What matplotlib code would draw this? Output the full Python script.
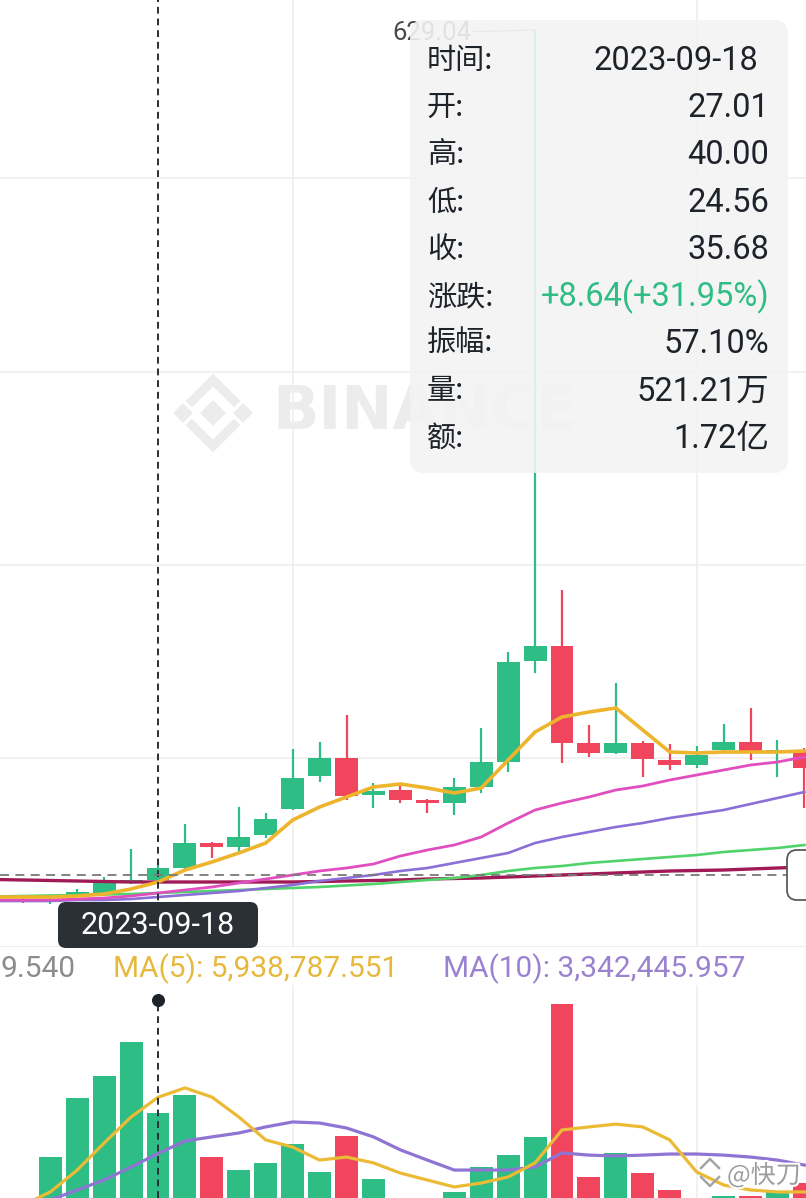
import matplotlib
matplotlib.use("Agg")
import matplotlib.pyplot as plt
import matplotlib.transforms as mtransforms
from matplotlib.patches import FancyBboxPatch, Polygon
from matplotlib.lines import Line2D
from matplotlib import patheffects as pe
import numpy as np

plt.rcParams['font.family'] = ['Roboto', 'Noto Sans CJK SC', 'DejaVu Sans']

# ---- daily candles; index 0 is 2023-09-18 ----
candle_idx = list(range(-6, 25))
opens = [13.02, 13.73, 11.61, 16.56, 16.90, 25.06, 27.01, 35.68, 53.38, 50.55, 59.04,
         77.45, 100.82, 113.56, 87.36, 90.90, 83.82, 81.70, 93.03, 110.73, 182.24,
         192.86, 124.18, 117.10, 124.18, 112.14, 108.60, 119.22, 124.89, 117.10, 119.22]
highs = [14.44, 15.15, 14.44, 20.81, 29.31, 49.13, 40.00, 66.83, 54.09, 78.87, 74.62,
         119.93, 124.89, 144.00, 95.86, 95.86, 84.53, 99.40, 134.80, 188.61, 629.04,
         232.50, 136.92, 166.66, 125.60, 123.47, 122.06, 137.63, 148.96, 126.30, 120.64]
lows = [11.61, 10.90, 10.19, 15.86, 15.86, 24.35, 24.56, 34.97, 42.76, 47.01, 56.92,
        76.74, 96.57, 83.82, 78.16, 81.70, 74.62, 73.20, 88.78, 103.65, 173.74,
        110.02, 114.27, 116.39, 100.11, 105.06, 106.48, 117.81, 112.14, 100.11, 78.16]
closes = [12.32, 12.32, 13.02, 18.69, 25.06, 27.04, 35.68, 53.38, 50.55, 57.63, 70.37,
          99.40, 113.56, 86.66, 90.20, 83.82, 81.70, 93.03, 110.73, 181.53, 192.86,
          124.18, 117.10, 124.18, 112.85, 108.60, 115.68, 124.89, 117.81, 119.22, 106.48]

# price moving averages
ma5 = [15.15, 15.15, 15.15, 15.86, 17.27, 20.81, 25.77, 34.26, 39.93, 46.30, 53.38,
       69.66, 78.87, 85.95, 93.03, 95.15, 92.32, 88.78, 92.32, 112.14, 131.97,
       142.59, 146.13, 148.96, 133.38, 117.81, 117.10, 117.81, 117.81, 117.81, 118.52]
ma20 = [13.02, 13.02, 13.02, 13.73, 14.44, 15.86, 17.98, 20.10, 22.23, 25.06, 27.89,
        30.72, 33.56, 35.68, 38.51, 44.18, 48.42, 51.96, 57.63, 67.54, 76.74,
        81.70, 85.95, 90.90, 93.74, 97.98, 101.52, 105.06, 108.60, 110.73, 114.27]
ma30 = [12.32, 12.32, 12.32, 13.02, 13.02, 13.73, 15.15, 16.56, 17.98, 19.40, 21.52,
        23.64, 26.48, 28.60, 30.72, 33.56, 35.68, 39.22, 42.76, 46.30, 53.38,
        57.63, 61.17, 64.71, 67.54, 71.08, 73.90, 76.74, 81.00, 85.24, 89.49]
ma60 = [15.51, 15.86, 16.21, 16.56, 16.92, 17.27, 17.98, 18.69, 19.40, 20.10, 20.81,
        21.52, 22.23, 23.29, 24.35, 25.77, 27.18, 28.60, 30.72, 33.56, 35.68,
        37.10, 39.22, 40.64, 42.05, 43.47, 44.88, 47.01, 48.42, 49.84, 51.96]
ma120 = [27.53, 27.18, 26.83, 26.48, 26.12, 25.77, 25.77, 25.77, 25.77, 25.77, 25.77,
         25.77, 26.12, 26.48, 26.83, 27.18, 27.89, 28.25, 28.60, 29.31, 30.02,
         30.72, 31.43, 32.14, 32.84, 33.56, 33.91, 34.26, 34.97, 35.68, 36.39]

# volume (millions) and its moving averages
volumes = [0.80, 0.90, 3.18, 5.90, 6.90, 8.50, 5.2121, 6.04, 3.18, 2.58, 2.91,
           3.78, 2.49, 4.15, 2.17, 0.90, 0.80, 1.57, 2.72, 3.27, 4.10,
           10.24, 2.26, 3.37, 2.44, 1.66, 1.00, 1.38, 1.38, 1.61, 1.98]
vol_ma5 = [0.80, 0.97, 1.57, 2.58, 3.83, 5.03, 5.938787551, 6.37, 5.95, 5.03, 3.97,
           3.64, 3.04, 3.18, 2.91, 2.44, 2.12, 1.80, 1.98, 2.26, 2.91,
           4.43, 4.57, 4.70, 4.57, 3.97, 2.49, 1.89, 1.66, 1.57, 1.57]
vol_ma10 = [0.60, 0.74, 1.20, 1.66, 2.12, 2.72, 3.342445957, 3.92, 4.11, 4.29, 4.57,
            4.80, 4.75, 4.52, 4.11, 3.51, 3.04, 2.58, 2.58, 2.58, 2.72,
            3.37, 3.27, 3.23, 3.27, 3.32, 3.32, 3.27, 3.18, 3.04, 2.81]

tip_labels = ['时间:', '开:', '高:', '低:', '收:', '涨跌:', '振幅:', '量:', '额:']
tip_values = ['2023-09-18', '27.01', '40.00', '24.56', '35.68',
              '+8.64(+31.95%)', '57.10%', '521.21万', '1.72亿']
selected_date = '2023-09-18'
selected_idx = 0
cursor_price = 31.0
high_mark_idx = 14
grid_prices = [113.6, 250.2, 386.8, 524.2]
grid_candles = [5, 20]

UP = '#2ebd85'
DOWN = '#f0455d'
TEXT = '#1e2329'

W, H = 806, 1198
fig = plt.figure(figsize=(W / 100, H / 100), dpi=100, facecolor='white')
# pixel coordinates measured from the top-left corner
px = mtransforms.Affine2D().scale(1 / W, -1 / H).translate(0, 1) + fig.transFigure

ax = fig.add_axes([0, 1 - 947 / H, 1, 947 / H])
axv = fig.add_axes([0, 0, 1, 213 / H])
for a in (ax, axv):
    a.set_facecolor('none')
    a.set_xlim(-5.867, 24.06)
    for s in a.spines.values():
        s.set_visible(False)
    a.tick_params(left=False, bottom=False, labelleft=False, labelbottom=False)
    a.set_xticks(grid_candles)
    a.grid(True, axis='x', color='#efefef', lw=1.2, zorder=0)
    a.set_axisbelow(True)

ax.set_ylim(-20.25, 650.22)
ax.set_yticks(grid_prices)
ax.grid(True, axis='y', color='#efefef', lw=1.2, zorder=0)
ax.axhline(-20.25, color='#eeeeee', lw=1.5, zorder=0)
axv.set_ylim(1.29, 11.12)

x = np.array(candle_idx, dtype=float)
o = np.array(opens); c = np.array(closes)
hi = np.array(highs); lo = np.array(lows)
up = c >= o
colors = np.where(up, UP, DOWN)

# candles
ax.vlines(x, lo, hi, colors=colors, lw=1.6, zorder=3)
body_lo = np.minimum(o, c)
body_h = np.maximum(np.abs(c - o), 1.4)
ax.bar(x, body_h, bottom=body_lo, width=0.85, color=colors, zorder=3, linewidth=0)

# moving averages
ax.plot(x, ma120, color='#a01a55', lw=2.4, zorder=4, solid_capstyle='round')
ax.plot(x, ma60, color='#4fd36a', lw=1.9, zorder=4)
ax.plot(x, ma30, color='#8b6fd6', lw=1.9, zorder=4)
ax.plot(x, ma20, color='#e14fbf', lw=2.0, zorder=4)
ax.plot(x, ma5, color='#edb42c', lw=2.6, zorder=5)

# crosshair
ax.axvline(selected_idx, color='#2a2e35', lw=1.4, ls=(0, (3.5, 2.5)), zorder=6)
ax.plot([-5.867, 23.3], [cursor_price, cursor_price], color='#7a7a7a', lw=1.3,
        ls=(0, (5, 3.5)), zorder=6)

# highest price marker
hm = candle_idx.index(high_mark_idx)
ax.annotate(f'{highs[hm]:.2f}', xy=(high_mark_idx, highs[hm]),
            xytext=(-64, -3), textcoords='offset pixels', ha='right', va='center',
            fontsize=18.5, color='#4a4a4a', zorder=7,
            arrowprops=dict(arrowstyle='-', color='#9a9a9a', lw=1.0,
                            shrinkA=0, shrinkB=0))

# volume bars and averages
axv.bar(x, volumes, width=0.85, color=colors, zorder=3, linewidth=0)
axv.plot(x, vol_ma10, color='#8f74d4', lw=2.3, zorder=4)
axv.plot(x, vol_ma5, color='#ebbb35', lw=2.3, zorder=5)
axv.axvline(selected_idx, ymax=0.93, color='#2a2e35', lw=1.4, ls=(0, (3.5, 2.5)), zorder=6)
axv.scatter([selected_idx], [0.93], s=70, color='#1e2329', zorder=7,
            transform=mtransforms.blended_transform_factory(axv.transData, axv.transAxes))

# faint exchange watermark
wm = '#ececec'
for cx, r in [(213, 12), (183, 9), (243, 9)]:
    fig.add_artist(Polygon([(cx, 413 - r), (cx + r, 413), (cx, 413 + r), (cx - r, 413)],
                           closed=True, transform=px, color=wm, zorder=-1))
for pts in ([(192, 401), (213, 380), (234, 401)], [(192, 425), (213, 446), (234, 425)]):
    fig.add_artist(Line2D([p[0] for p in pts], [p[1] for p in pts], transform=px,
                          color=wm, lw=6.5, solid_joinstyle='miter', zorder=-1))
fig.text(272, 413, 'BINANCE', transform=px, fontsize=44, fontweight='bold',
         family='DejaVu Sans', color=wm, va='center', ha='left', zorder=-1)

# volume header
fig.text(0, 969, '9.540', transform=px, fontsize=21.5, color='#8c8c8c', va='center', ha='left')
fig.text(113, 969, f'MA(5): {vol_ma5[candle_idx.index(selected_idx)] * 1e6:,.3f}',
         transform=px, fontsize=21.5, color='#e6b93c', va='center', ha='left')
fig.text(443, 969, f'MA(10): {vol_ma10[candle_idx.index(selected_idx)] * 1e6:,.3f}',
         transform=px, fontsize=21.5, color='#9a82d0', va='center', ha='left')

# date tag under the crosshair
fig.add_artist(FancyBboxPatch((58, 902), 200, 46, boxstyle='round,pad=0,rounding_size=8',
                              transform=px, facecolor='#2b2f36', edgecolor='none', zorder=8))
fig.text(158, 926, selected_date, transform=px, fontsize=22, color='white',
         ha='center', va='center', zorder=9)

# cursor price tag on the right edge
fig.add_artist(FancyBboxPatch((787, 850), 60, 50, boxstyle='round,pad=0,rounding_size=10',
                              transform=px, facecolor='white', edgecolor='#5a5a5a',
                              lw=1.3, zorder=8))

# info panel
fig.add_artist(FancyBboxPatch((410, 20), 378, 453, boxstyle='round,pad=0,rounding_size=14',
                              transform=px, facecolor='#f3f3f3', edgecolor='none',
                              alpha=0.9, zorder=10))
row_y = 61
for i, (lab, val) in enumerate(zip(tip_labels, tip_values)):
    yy = row_y + i * 47.2
    fig.text(427, yy, lab, transform=px, fontsize=21, color=TEXT,
             family=['Noto Sans CJK SC', 'DejaVu Sans'], ha='left', va='center', zorder=11)
    col = UP if val.startswith('+') else TEXT
    xr = 758 if i == 0 else 769
    fig.text(xr, yy, val, transform=px, fontsize=23.5, color=col,
             ha='right', va='center', zorder=11)

# corner signature
for pts in ([(701, 1168), (710, 1159), (719, 1168)], [(701, 1177), (710, 1186), (719, 1177)]):
    fig.add_artist(Line2D([p[0] for p in pts], [p[1] for p in pts], transform=px,
                          color='#a5a5a5', lw=1.8, zorder=12))
fig.text(727, 1176, '@快刀', transform=px, fontsize=18, color='#9d9d9d',
         family=['Noto Sans CJK SC', 'DejaVu Sans'], ha='left', va='center', zorder=12,
         path_effects=[pe.withStroke(linewidth=3, foreground='white')])

fig.savefig('out.png', dpi=100, facecolor='white')
